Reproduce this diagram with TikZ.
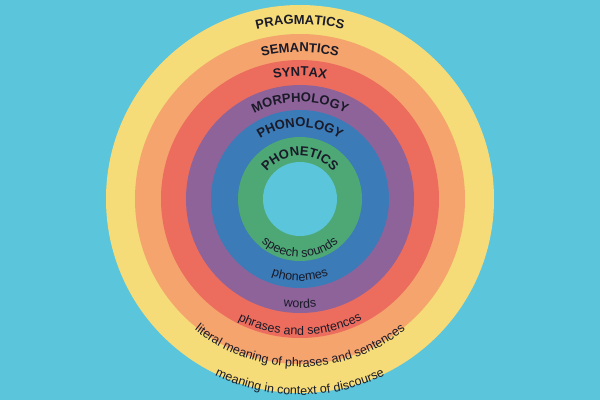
\documentclass[tikz,border=0pt]{standalone}
\usepackage{fontspec}
\setmainfont{Liberation Sans}
\usetikzlibrary{decorations.text}
\definecolor{bg}{HTML}{5BC5DC}
\definecolor{cY}{HTML}{F5DC78}
\definecolor{cO}{HTML}{F4A46C}
\definecolor{cR}{HTML}{EC6D5E}
\definecolor{cP}{HTML}{8E639A}
\definecolor{cB}{HTML}{3A7BB8}
\definecolor{cG}{HTML}{4DA876}
\definecolor{ink}{HTML}{1A1A28}
\tikzset{
 toplab/.style={decorate,decoration={text along path,text={|\fontsize{13}{13}\selectfont\bfseries|#1},text align=center,text color=ink}},
 botlab/.style={decorate,decoration={text along path,text={|\fontsize{12.5}{12.5}\selectfont|#1},text align=center,text color=ink}}
}
\newcommand\toparc[2]{\path[toplab={#2}] (180:#1) arc[start angle=180,end angle=0,radius=#1];}
\newcommand\botarc[2]{\path[botlab={#2}] (180:#1) arc[start angle=180,end angle=360,radius=#1];}
\begin{document}
\begin{tikzpicture}[x=1pt,y=1pt]
\fill[bg] (-300,-201) rectangle (300,199);
\useasboundingbox (-300,-201) rectangle (300,199);
\coordinate (c) at (0,0);
\fill[cY] (c) circle[radius=194];
\fill[cO] (c) circle[radius=165];
\fill[cR] (c) circle[radius=139];
\fill[cP] (c) circle[radius=114];
\fill[cB] (c) circle[radius=89];
\fill[cG] (c) circle[radius=62];
\fill[bg] (c) circle[radius=37];
\toparc{175}{PRAGMATICS}
\toparc{147}{SEMANTICS}
\toparc{123}{SYNTAX}
\toparc{97}{MORPHOLOGY}
\toparc{72}{PHONOLOGY}
\toparc{43}{PHONETICS}
\botarc{58}{speech sounds}
\botarc{82}{phonemes}
\botarc{109}{words}
\botarc{136}{phrases and sentences}
\botarc{168}{literal meaning of phrases and sentences}
\botarc{196}{meaning in context of discourse}
\end{tikzpicture}
\end{document}
